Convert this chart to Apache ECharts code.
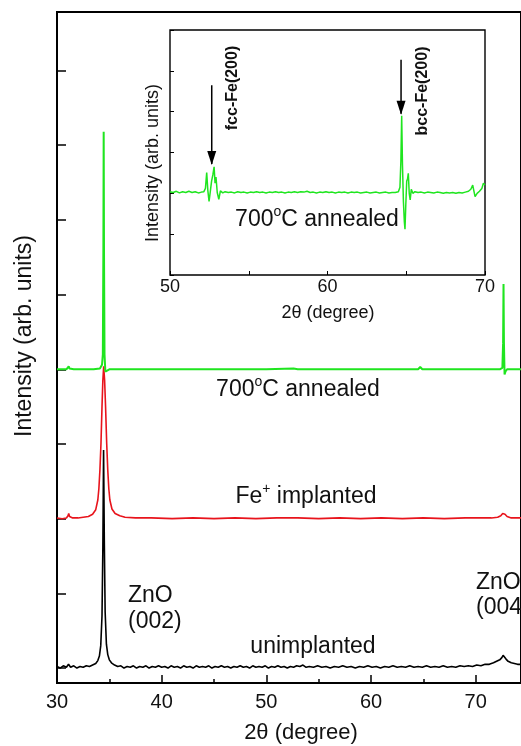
<!DOCTYPE html>
<html>
<head>
<meta charset="utf-8">
<script src="https://cdn.jsdelivr.net/npm/echarts@6/dist/echarts.min.js"></script>
<style>
  html, body { margin: 0; padding: 0; background: #fff; }
  #chart { width: 521px; height: 746px; }
</style>
</head>
<body>
<div id="chart"></div>
<script>
// tick positions
const mainXTicks = [30, 40, 50, 60, 70]
const mainYTicks = [0.2, 1.2, 2.2, 3.2, 4.2, 5.2, 6.2, 7.2, 8.2]
const insetXTicks = [50, 60, 70]

// [2theta, intensity], offset curves
const unimplanted = [
  [30.0,0.22],[30.3,0.20],[30.6,0.23],[30.9,0.21],[31.1,0.25],[31.3,0.21],[31.6,0.23],[31.9,0.20],
  [32.2,0.22],[32.5,0.21],[32.8,0.23],[33.1,0.22],[33.4,0.24],[33.7,0.26],[33.9,0.30],[34.05,0.36],
  [34.18,0.50],[34.3,0.90],[34.38,1.80],[34.45,3.12],[34.52,1.90],[34.6,0.95],[34.72,0.52],[34.85,0.38],
  [35.0,0.31],[35.2,0.27],[35.5,0.24],[35.8,0.22],[36.1,0.23],[36.4,0.20],[36.7,0.22],[37.0,0.21],
  [37.3,0.23],[37.6,0.20],[37.9,0.22],[38.2,0.21],[38.5,0.23],[38.8,0.20],[39.1,0.22],[39.4,0.21],
  [39.7,0.23],[40.0,0.21],[40.3,0.22],[40.6,0.20],[40.9,0.23],[41.2,0.21],[41.5,0.22],[41.8,0.20],
  [42.1,0.23],[42.4,0.21],[42.7,0.22],[43.0,0.20],[43.3,0.23],[43.6,0.21],[43.9,0.22],[44.2,0.21],
  [44.5,0.23],[44.8,0.20],[45.1,0.22],[45.4,0.21],[45.7,0.23],[46.0,0.21],[46.3,0.22],[46.6,0.20],
  [46.9,0.22],[47.2,0.21],[47.5,0.23],[47.8,0.21],[48.1,0.22],[48.4,0.20],[48.7,0.23],[49.0,0.21],
  [49.3,0.22],[49.6,0.21],[49.9,0.23],[50.2,0.20],[50.5,0.22],[50.8,0.21],[51.1,0.23],[51.4,0.21],
  [51.7,0.22],[52.0,0.20],[52.3,0.22],[52.6,0.21],[52.9,0.23],[53.2,0.22],[53.5,0.24],[53.8,0.21],
  [54.1,0.22],[54.5,0.21],[54.9,0.23],[55.3,0.21],[55.7,0.22],[56.1,0.20],[56.5,0.22],[56.9,0.21],
  [57.3,0.23],[57.7,0.21],[58.1,0.22],[58.5,0.20],[58.9,0.22],[59.3,0.21],[59.7,0.23],[60.1,0.21],
  [60.5,0.22],[60.9,0.20],[61.3,0.22],[61.7,0.21],[62.1,0.23],[62.5,0.21],[62.9,0.22],[63.3,0.21],
  [63.7,0.23],[64.1,0.21],[64.5,0.22],[64.9,0.21],[65.3,0.23],[65.7,0.21],[66.1,0.22],[66.5,0.21],
  [66.9,0.23],[67.3,0.21],[67.7,0.22],[68.1,0.21],[68.5,0.23],[68.9,0.22],[69.3,0.23],[69.7,0.22],
  [70.1,0.24],[70.5,0.23],[70.9,0.25],[71.3,0.25],[71.7,0.27],[72.0,0.29],[72.3,0.31],[72.5,0.34],
  [72.62,0.37],[72.68,0.39],[72.75,0.36],[72.9,0.32],[73.1,0.29],[73.4,0.27],[73.7,0.26],[74.0,0.25],
  [74.4,0.25]
]
const implanted = [
  [30.0,2.21],[30.5,2.20],[30.9,2.21],[31.05,2.24],[31.12,2.27],[31.2,2.23],[31.5,2.21],[32.0,2.21],
  [32.5,2.22],[33.0,2.23],[33.4,2.26],[33.7,2.32],[33.9,2.45],[34.0,2.6],[34.1,2.85],[34.2,3.2],
  [34.3,3.7],[34.38,4.05],[34.46,4.24],[34.55,4.05],[34.64,3.7],[34.75,3.2],[34.85,2.85],[34.95,2.6],
  [35.05,2.45],[35.25,2.33],[35.55,2.27],[36.0,2.24],[36.5,2.22],[37.5,2.21],[39,2.21],[41,2.20],
  [43,2.21],[45,2.20],[47,2.21],[49,2.20],[51,2.21],[53,2.21],[55,2.20],[57,2.21],[59,2.20],[61,2.21],
  [63,2.20],[65,2.21],[67,2.20],[69,2.21],[70.5,2.21],[71.5,2.21],[72.1,2.22],[72.4,2.24],[72.58,2.27],
  [72.68,2.28],[72.8,2.26],[73.0,2.23],[73.4,2.21],[74.0,2.21],[74.4,2.21]
]
const annealed = [
  [30.0,4.20],[30.5,4.20],[30.9,4.20],[31.05,4.22],[31.12,4.24],[31.2,4.21],[31.6,4.20],[32.5,4.20],
  [33.5,4.20],[34.1,4.21],[34.3,4.26],[34.38,4.4],[34.43,5.8],[34.46,7.38],[34.49,5.8],[34.54,4.4],
  [34.62,4.17],[34.75,4.19],[35.0,4.20],[38,4.20],[42,4.20],[46,4.20],[50,4.20],[52.6,4.21],[53,4.20],
  [56,4.20],[60,4.20],[64.5,4.20],[64.7,4.23],[64.9,4.20],[68,4.20],[72.3,4.20],[72.55,4.22],
  [72.62,4.55],[72.66,5.34],[72.7,4.55],[72.76,4.13],[72.85,4.17],[73.0,4.20],[74.4,4.20]
]
// inset: 700 C annealed, 50-70 degrees
const annealedZoom = [
  [50.0,2.04],[50.2,2.02],[50.4,2.05],[50.6,2.01],[50.8,2.04],[51.0,2.02],[51.2,2.05],[51.4,2.02],
  [51.6,2.04],[51.8,2.01],[52.0,2.03],[52.15,2.04],[52.25,2.12],[52.33,2.51],[52.4,2.08],[52.48,1.80],
  [52.56,2.05],[52.64,2.3],[52.72,2.45],[52.8,2.65],[52.86,2.25],[52.92,2.4],[53.0,2.02],[53.1,1.85],
  [53.2,2.06],[53.35,2.01],[53.5,2.04],[53.7,2.02],[53.9,2.03],[54.1,2.01],[54.3,2.04],[54.5,2.02],
  [54.7,2.03],[54.9,2.01],[55.1,2.03],[55.3,2.02],[55.5,2.04],[55.7,2.02],[55.9,2.03],[56.1,2.01],
  [56.3,2.03],[56.5,2.02],[56.7,2.04],[56.9,2.02],[57.1,2.03],[57.3,2.01],[57.5,2.03],[57.7,2.02],
  [57.9,2.04],[58.1,2.02],[58.3,2.04],[58.5,2.03],[58.7,2.05],[58.9,2.02],[59.1,2.03],[59.3,2.01],
  [59.5,2.03],[59.7,2.02],[59.9,2.04],[60.1,2.02],[60.3,2.03],[60.5,2.01],[60.7,2.03],[60.9,2.02],
  [61.1,2.03],[61.3,2.01],[61.5,2.03],[61.7,2.02],[61.9,2.03],[62.1,2.01],[62.3,2.02],[62.5,2.03],
  [62.7,2.01],[62.9,2.02],[63.1,2.03],[63.3,2.01],[63.5,2.02],[63.7,2.03],[63.9,2.01],[64.1,2.02],
  [64.3,2.02],[64.5,2.04],[64.6,2.15],[64.66,2.8],[64.71,3.9],[64.76,2.7],[64.82,1.8],[64.88,1.3],
  [64.92,1.12],[64.97,1.7],[65.03,2.3],[65.08,2.35],[65.13,2.49],[65.19,2.0],[65.25,1.84],[65.32,2.1],
  [65.42,2.0],[65.55,2.04],[65.75,2.02],[65.95,2.03],[66.15,2.01],[66.35,2.03],[66.55,2.02],[66.75,2.01],
  [66.95,2.03],[67.15,2.02],[67.35,2.0],[67.55,2.02],[67.75,2.01],[67.95,2.02],[68.15,2.0],[68.35,2.02],
  [68.55,2.01],[68.75,2.03],[68.95,2.05],[69.1,2.1],[69.22,2.2],[69.3,2.05],[69.37,1.92],[69.5,2.0],
  [69.65,2.05],[69.8,2.12],[69.9,2.25],[70.0,2.2]
]
// arrow start/end in inset coordinates [2theta, intensity]
const fccArrow = [[52.65, 4.65], [52.65, 2.72]]
const bccArrow = [[64.67, 5.27], [64.67, 3.95]]

const FONT = '"Liberation Sans", Arial, sans-serif'
const GREEN = '#1fe51f'
const RED = '#e8141c'

const chart = echarts.init(document.getElementById('chart'))

function txt(x, y, text, size, extra) {
  return {
    type: 'text', x: x, y: y, z: 100,
    rotation: (extra && extra.rotation) || 0,
    style: Object.assign({
      text: text, fill: '#111', fontFamily: FONT, fontSize: size,
      align: 'center', verticalAlign: 'middle'
    }, (extra && extra.style) || {})
  }
}
function supTxt(x, y, a, b, c) {
  return {
    type: 'text', x: x, y: y, z: 100,
    style: {
      text: '{n|' + a + '}{s|' + b + '}{n|' + c + '}',
      align: 'center', verticalAlign: 'middle',
      rich: {
        n: { fontFamily: FONT, fontSize: 23, fill: '#111', lineHeight: 26, verticalAlign: 'bottom' },
        s: { fontFamily: FONT, fontSize: 14, fill: '#111', lineHeight: 26, verticalAlign: 'top' }
      }
    }
  }
}

chart.setOption({
  animation: false,
  grid: [
    { left: 57, top: 12, width: 469, height: 671, show: true, borderColor: '#000', borderWidth: 2 },
    { left: 170, top: 30, width: 315, height: 245, show: true, borderColor: '#000', borderWidth: 1.4 }
  ],
  xAxis: [
    {
      gridIndex: 0, type: 'value', min: 30, max: 74.33, interval: 10,
      axisLine: { show: false },
      axisTick: { inside: true, length: 8, lineStyle: { color: '#000', width: 1.5 } },
      minorTick: { show: true, splitNumber: 2, length: 4, lineStyle: { color: '#000', width: 1.5 } },
      splitLine: { show: false },
      axisLabel: { margin: 9, color: '#111', fontSize: 20, fontFamily: FONT, customValues: mainXTicks }
    },
    {
      gridIndex: 1, type: 'value', min: 50, max: 70, interval: 10,
      axisLine: { show: false },
      axisTick: { inside: true, length: 4, lineStyle: { color: '#000' } },
      minorTick: { show: true, splitNumber: 2, length: 4, lineStyle: { color: '#000' } },
      splitLine: { show: false },
      axisLabel: { margin: 3, color: '#111', fontSize: 18, fontFamily: FONT, customValues: insetXTicks }
    }
  ],
  yAxis: [
    {
      gridIndex: 0, type: 'value', min: 0, max: 8.983,
      axisLine: { show: false },
      axisTick: { inside: true, length: 9, customValues: mainYTicks, lineStyle: { color: '#000', width: 1.5 } },
      axisLabel: { show: false },
      splitLine: { show: false }
    },
    {
      gridIndex: 1, type: 'value', min: 0, max: 6, interval: 1,
      axisLine: { show: false },
      axisTick: { inside: true, length: 4, lineStyle: { color: '#000' } },
      axisLabel: { show: false },
      splitLine: { show: false }
    }
  ],
  series: [
    { type: 'line', name: 'unimplanted', xAxisIndex: 0, yAxisIndex: 0, data: unimplanted,
      showSymbol: false, lineStyle: { color: '#000', width: 1.6 } },
    { type: 'line', name: 'Fe+ implanted', xAxisIndex: 0, yAxisIndex: 0, data: implanted,
      showSymbol: false, lineStyle: { color: RED, width: 1.6 } },
    { type: 'line', name: '700C annealed', xAxisIndex: 0, yAxisIndex: 0, data: annealed,
      showSymbol: false, lineStyle: { color: GREEN, width: 2 } },
    { type: 'line', name: 'inset', xAxisIndex: 1, yAxisIndex: 1, data: annealedZoom,
      showSymbol: false, lineStyle: { color: GREEN, width: 1.5 } },
    // the two arrows, drawn as short line series through the inset axes
    { type: 'line', name: 'fcc arrow', xAxisIndex: 1, yAxisIndex: 1, data: fccArrow,
      symbol: 'none', lineStyle: { color: '#000', width: 1.5 }, z: 5,
      markPoint: { symbol: 'triangle', symbolSize: [9, 14], symbolRotate: 180, symbolOffset: [0, -6],
        itemStyle: { color: '#000' }, label: { show: false }, data: [{ coord: fccArrow[1] }] } },
    { type: 'line', name: 'bcc arrow', xAxisIndex: 1, yAxisIndex: 1, data: bccArrow,
      symbol: 'none', lineStyle: { color: '#000', width: 1.5 }, z: 5,
      markPoint: { symbol: 'triangle', symbolSize: [9, 14], symbolRotate: 180, symbolOffset: [0, -6],
        itemStyle: { color: '#000' }, label: { show: false }, data: [{ coord: bccArrow[1] }] } }
  ],
  graphic: [
    txt(25, 336, 'Intensity (arb. units)', 23, { rotation: Math.PI / 2 }),
    txt(301, 733, '2\u03b8 (degree)', 22),
    txt(153, 163, 'Intensity (arb. units)', 18, { rotation: Math.PI / 2 }),
    txt(328, 313, '2\u03b8 (degree)', 18),
    supTxt(317, 218, '700', 'o', 'C annealed'),
    supTxt(298, 388, '700', 'o', 'C annealed'),
    supTxt(306, 495, 'Fe', '+', ' implanted'),
    txt(313, 647, 'unimplanted', 23),
    txt(128, 596, 'ZnO', 23, { style: { align: 'left' } }),
    txt(128, 622, '(002)', 23, { style: { align: 'left' } }),
    txt(476, 583, 'ZnO', 23, { style: { align: 'left' } }),
    txt(476, 608, '(004)', 23, { style: { align: 'left' } }),
    txt(233, 88, 'fcc-Fe(200)', 16, { rotation: Math.PI / 2, style: { fontWeight: 'bold' } }),
    txt(423, 91, 'bcc-Fe(200)', 16, { rotation: Math.PI / 2, style: { fontWeight: 'bold' } })
  ]
})
</script>
</body>
</html>
